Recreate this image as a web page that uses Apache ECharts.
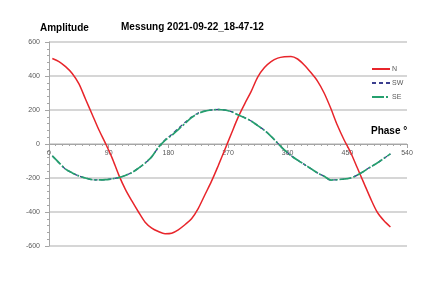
<!DOCTYPE html>
<html><head><meta charset="utf-8">
<script src="https://cdn.jsdelivr.net/npm/echarts@6/dist/echarts.min.js"></script>
<style>html,body{margin:0;padding:0;background:#fff}#c{width:444px;height:302px}</style>
</head><body><div id="c"></div>
<script>
const phases = [5,15,25,35,45,55,65,75,85,95,105,115,125,135,145,155,165,175,185,195,205,215,225,235,245,255,265,275,285,295,305,315,325,335,345,355,365,375,385,395,405,415,425,435,445,455,465,475,485,495,505,515];
const seriesN = [503,485,455,415,355,265,175,85,5,-80,-180,-265,-335,-400,-460,-495,-515,-528,-525,-505,-475,-440,-380,-300,-220,-130,-35,60,155,235,310,395,450,485,505,513,515,500,465,420,370,300,210,110,25,-50,-140,-230,-320,-400,-450,-488];
const seriesSW = [-70,-110,-148,-170,-188,-200,-210,-211,-210,-205,-198,-185,-168,-142,-112,-75,-20,24,56,92,126,158,182,194,200,203,200,190,172,155,135,108,80,45,5,-35,-68,-95,-120,-145,-170,-190,-212,-210,-206,-200,-183,-160,-135,-112,-85,-58];
const seriesSE = [-70,-110,-148,-170,-188,-200,-210,-211,-210,-205,-198,-185,-168,-142,-112,-75,-20,22,50,85,120,155,180,193,200,203,200,190,172,155,135,108,80,45,5,-35,-68,-95,-120,-145,-170,-190,-212,-210,-206,-200,-183,-160,-135,-112,-85,-58];
const names = ['N','SW','SE'];
const titleText = 'Messung 2021-09-22_18-47-12';
const yTitle = 'Amplitude';
const xTitle = 'Phase °';

const pair = (xs, ys) => xs.map((x, i) => [x, ys[i]]);
const chart = echarts.init(document.getElementById('c'), null, {renderer: 'canvas'});
const lblFont = {color: '#595959', fontSize: 7, fontFamily: 'Liberation Sans'};
chart.setOption({
  animation: false,
  backgroundColor: '#ffffff',
  title: [
    {text: titleText, left: 116, top: 17, textStyle: {fontSize: 10, fontWeight: 'bold', color: '#000', fontFamily: 'Liberation Sans'}},
    {text: yTitle, left: 35, top: 18, textStyle: {fontSize: 10, fontWeight: 'bold', color: '#000', fontFamily: 'Liberation Sans'}},
    {text: xTitle, left: 366, top: 121, textStyle: {fontSize: 10, fontWeight: 'bold', color: '#000', fontFamily: 'Liberation Sans'}}
  ],
  legend: {
    orient: 'vertical', left: 366, top: 60, itemWidth: 18, itemHeight: 10, itemGap: 6,
    itemStyle: {opacity: 0},
    textStyle: {fontSize: 7, color: '#595959', fontFamily: 'Liberation Sans', padding: [0,0,0,-3]},
    data: names
  },
  grid: {left: 49, right: 37, top: 42, bottom: 56, containLabel: false},
  xAxis: {
    type: 'value', min: 0, max: 540, interval: 90, position: 'bottom', offset: -102,
    axisLine: {onZero: false, lineStyle: {color: '#a6a6a6', width: 1}},
    axisTick: {show: true, inside: false, length: 4, lineStyle: {color: '#a6a6a6'}},
    minorTick: {show: true, splitNumber: 9, length: 2, lineStyle: {color: '#a6a6a6'}},
    axisLabel: Object.assign({margin: 6}, lblFont),
    splitLine: {show: false}
  },
  yAxis: {
    type: 'value', min: -600, max: 600, interval: 200,
    axisLine: {show: true, lineStyle: {color: '#a6a6a6', width: 1}},
    axisTick: {show: true, length: 4, lineStyle: {color: '#a6a6a6'}},
    minorTick: {show: true, splitNumber: 5, length: 2, lineStyle: {color: '#a6a6a6'}},
    axisLabel: Object.assign({margin: 9}, lblFont),
    splitLine: {show: true, lineStyle: {color: '#c9c9c9', width: 1.5}}
  },
  series: [
    {name: 'N', type: 'line', data: pair(phases, seriesN), symbol: 'none', smooth: 0.3, color: '#e8252b', lineStyle: {color: '#e8252b', width: 1.5}},
    {name: 'SW', type: 'line', data: pair(phases, seriesSW), symbol: 'none', smooth: 0.3, color: '#3b3f8f', lineStyle: {color: '#3b3f8f', width: 1.3, type: [4, 3]}},
    {name: 'SE', type: 'line', data: pair(phases, seriesSE), symbol: 'none', smooth: 0.3, color: '#25a06e', lineStyle: {color: '#25a06e', width: 1.7, type: [12, 2, 2, 2]}}
  ]
});
</script></body></html>
